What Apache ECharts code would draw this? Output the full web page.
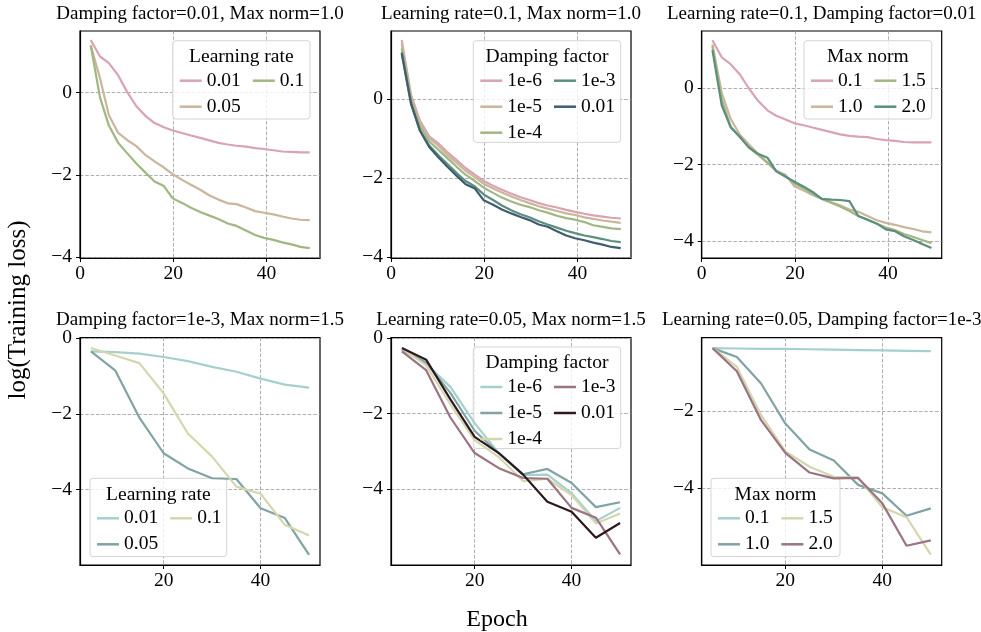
<!DOCTYPE html>
<html>
<head>
<meta charset="utf-8">
<script src="https://cdn.jsdelivr.net/npm/echarts@6/dist/echarts.min.js"></script>
<style>
  html, body { margin: 0; padding: 0; background: #fff; }
  #main { width: 981px; height: 632px; }
</style>
</head>
<body>
<div id="main"></div>
<script>
var chartDom = document.getElementById('main');
var myChart = echarts.init(chartDom);
var option;

const FONT = "'Liberation Serif', 'Times New Roman', Times, serif";
const FS = 19.5;

// epochs
const epochsTop = [2.3, 4.3, 6.2, 8.2, 10.1, 12.1, 14.1, 16.0, 18.0, 19.9, 21.9, 23.8, 25.8,
  27.8, 29.7, 31.7, 33.6, 35.6, 37.6, 39.5, 41.5, 43.4, 45.4, 47.3, 49.3];
const epochsBottom = [5, 10, 15, 20, 25, 30, 35, 40, 45, 50];

// top row, log(training loss)
// lr=0.1, damping=0.01, max norm=1.0 (shared by the three top panels)
const lossBaseTop = [1.15, -0.12, -0.80, -1.22, -1.47, -1.72, -1.95, -2.16, -2.27, -2.57, -2.68, -2.80, -2.90,
  -2.99, -3.07, -3.18, -3.24, -3.35, -3.46, -3.53, -3.58, -3.64, -3.69, -3.75, -3.78];
const p1Lr001 = [1.28, 0.88, 0.72, 0.42, 0.02, -0.33, -0.57, -0.74, -0.84, -0.92, -0.98, -1.04, -1.10,
  -1.16, -1.22, -1.26, -1.29, -1.31, -1.35, -1.37, -1.40, -1.43, -1.44, -1.45, -1.45];
const p1Lr005 = [1.15, 0.35, -0.55, -0.98, -1.15, -1.30, -1.52, -1.67, -1.82, -1.98, -2.12, -2.24, -2.36,
  -2.50, -2.60, -2.69, -2.71, -2.79, -2.88, -2.92, -2.96, -3.01, -3.06, -3.09, -3.10];

const p2Df1e6 = [1.49, 0.10, -0.55, -0.95, -1.12, -1.35, -1.55, -1.75, -1.92, -2.08, -2.20, -2.30, -2.40,
  -2.49, -2.56, -2.64, -2.70, -2.75, -2.81, -2.86, -2.91, -2.95, -2.98, -3.01, -3.03];
const p2Df1e5 = [1.40, 0.05, -0.62, -1.00, -1.18, -1.42, -1.62, -1.82, -1.98, -2.15, -2.27, -2.37, -2.47,
  -2.56, -2.64, -2.72, -2.78, -2.84, -2.90, -2.94, -3.00, -3.04, -3.08, -3.11, -3.14];
const p2Df1e4 = [1.28, -0.02, -0.70, -1.08, -1.28, -1.50, -1.72, -1.92, -2.08, -2.25, -2.38, -2.50, -2.60,
  -2.68, -2.74, -2.82, -2.88, -2.96, -3.02, -3.06, -3.12, -3.20, -3.24, -3.28, -3.30];
const p2Df1e3 = [1.18, -0.12, -0.80, -1.18, -1.42, -1.65, -1.88, -2.08, -2.22, -2.42, -2.56, -2.70, -2.82,
  -2.92, -3.00, -3.10, -3.18, -3.26, -3.34, -3.40, -3.46, -3.50, -3.55, -3.60, -3.63];

const p3Mn01 = [1.26, 0.81, 0.63, 0.36, 0.00, -0.33, -0.58, -0.72, -0.82, -0.92, -0.97, -1.03, -1.09,
  -1.15, -1.21, -1.25, -1.27, -1.28, -1.33, -1.36, -1.38, -1.41, -1.42, -1.42, -1.42];
const p3Mn15 = [1.10, -0.30, -1.00, -1.28, -1.55, -1.75, -1.95, -2.17, -2.30, -2.50, -2.62, -2.78, -2.90,
  -3.00, -3.10, -3.22, -3.35, -3.45, -3.55, -3.65, -3.72, -3.82, -3.90, -3.98, -4.06];
const p3Mn20 = [1.00, -0.45, -1.02, -1.28, -1.55, -1.72, -1.82, -2.18, -2.32, -2.45, -2.58, -2.72, -2.90,
  -2.92, -2.93, -2.96, -3.35, -3.45, -3.55, -3.70, -3.75, -3.88, -3.98, -4.08, -4.19];

// bottom row
// lr=0.05, damping=1e-3, max norm=1.5 (shared by the three bottom panels)
const lossBaseBottom = [-0.35, -0.85, -2.10, -3.04, -3.44, -3.70, -3.72, -4.49, -4.75, -5.72];
const p4Lr001 = [-0.35, -0.37, -0.41, -0.50, -0.61, -0.76, -0.89, -1.07, -1.23, -1.31];
const p4Lr01 = [-0.26, -0.46, -0.66, -1.46, -2.52, -3.13, -3.92, -4.11, -4.93, -5.21];

const p5Df1e6 = [-0.30, -0.68, -1.29, -2.25, -3.05, -3.62, -3.61, -4.10, -4.84, -4.49];
const p5Df1e5 = [-0.30, -0.65, -1.45, -2.45, -3.05, -3.60, -3.46, -3.83, -4.47, -4.34];
const p5Df1e4 = [-0.28, -0.72, -1.75, -2.70, -3.15, -3.78, -3.72, -4.15, -4.90, -4.64];
const p5Df001 = [-0.26, -0.57, -1.62, -2.61, -3.04, -3.61, -4.33, -4.59, -5.28, -4.89];

const p6Mn01 = [-0.36, -0.37, -0.38, -0.38, -0.39, -0.40, -0.41, -0.42, -0.43, -0.44];
const p6Mn10 = [-0.36, -0.59, -1.28, -2.32, -2.99, -3.28, -3.91, -4.13, -4.71, -4.52];
const p6Mn20 = [-0.36, -0.96, -2.23, -3.08, -3.59, -3.74, -3.73, -4.39, -5.49, -5.35];

// tick labels
const xTicksTop = [0, 20, 40];
const xTicksBottom = [20, 40];
const yTicks = [[-4, -2, 0], [-4, -2, 0], [-4, -2, 0], [-4, -2, 0], [-4, -2, 0], [-4, -2]];

// palettes
const topColors = ['#d9a3b1', '#c9b69c', '#a0b783', '#5d8e7d', '#3f5d6f'];
const bottomColors = ['#a5d0cc', '#81a3a4', '#d4d7ad', '#9b7383', '#2e1820'];

const panels = [
  { title: 'Damping factor=0.01, Max norm=1.0', legendTitle: 'Learning rate', x: epochsTop,
    labels: ['0.01', '0.05', '0.1'], values: [p1Lr001, p1Lr005, lossBaseTop],
    colors: [topColors[0], topColors[1], topColors[2]] },
  { title: 'Learning rate=0.1, Max norm=1.0', legendTitle: 'Damping factor', x: epochsTop,
    labels: ['1e-6', '1e-5', '1e-4', '1e-3', '0.01'], values: [p2Df1e6, p2Df1e5, p2Df1e4, p2Df1e3, lossBaseTop],
    colors: topColors },
  { title: 'Learning rate=0.1, Damping factor=0.01', legendTitle: 'Max norm', x: epochsTop,
    labels: ['0.1', '1.0', '1.5', '2.0'], values: [p3Mn01, lossBaseTop, p3Mn15, p3Mn20],
    colors: [topColors[0], topColors[1], topColors[2], topColors[3]] },
  { title: 'Damping factor=1e-3, Max norm=1.5', legendTitle: 'Learning rate', x: epochsBottom,
    labels: ['0.01', '0.05', '0.1'], values: [p4Lr001, lossBaseBottom, p4Lr01],
    colors: [bottomColors[0], bottomColors[1], bottomColors[2]] },
  { title: 'Learning rate=0.05, Max norm=1.5', legendTitle: 'Damping factor', x: epochsBottom,
    labels: ['1e-6', '1e-5', '1e-4', '1e-3', '0.01'], values: [p5Df1e6, p5Df1e5, p5Df1e4, lossBaseBottom, p5Df001],
    colors: bottomColors },
  { title: 'Learning rate=0.05, Damping factor=1e-3', legendTitle: 'Max norm', x: epochsBottom,
    labels: ['0.1', '1.0', '1.5', '2.0'], values: [p6Mn01, p6Mn10, lossBaseBottom, p6Mn20],
    colors: [bottomColors[0], bottomColors[1], bottomColors[2], bottomColors[3]] }
];

// layout
const grids = [
  { left: 80, top: 31, width: 240, height: 227 },
  { left: 391, top: 31, width: 240, height: 227 },
  { left: 701.7, top: 31, width: 240, height: 227 },
  { left: 80, top: 337.7, width: 240, height: 227.3 },
  { left: 391, top: 337.7, width: 240, height: 227.3 },
  { left: 701.7, top: 337.7, width: 240, height: 227.3 }
];
const xRanges = [[0, 51.5], [0, 51.5], [0, 51.5], [2.75, 52.25], [2.75, 52.25], [2.75, 52.25]];
const yRanges = [[-4.02, 1.5], [-4.03, 1.72], [-4.45, 1.5], [-5.99, 0.01], [-6.0, 0.01], [-5.99, -0.09]];
const legendBoxes = [
  { x: 172.7, y: 40.7, w: 137.3 },
  { x: 473.3, y: 40.7, w: 147.4 },
  { x: 804, y: 40.7, w: 127.7 },
  { x: 90, y: 478.3, w: 136.7 },
  { x: 473.3, y: 347, w: 147.4 },
  { x: 711, y: 478.3, w: 129 }
];

const minus = function (v) {
  return String(v).replace('-', '\u2212');
};

const xAxes = [];
const yAxes = [];
const series = [];
const legends = [];
const graphics = [];

panels.forEach(function (p, i) {
  const g = grids[i];
  const xt = i < 3 ? xTicksTop : xTicksBottom;
  const split = { show: true, lineStyle: { color: '#9a9a9a', width: 0.8, type: [3.5, 1.8] } };
  xAxes.push({
    type: 'value', gridIndex: i, min: xRanges[i][0], max: xRanges[i][1],
    axisLine: { show: true, onZero: false, lineStyle: { color: '#000', width: 1.2 } },
    axisTick: { show: true, length: 4, customValues: xt, lineStyle: { color: '#000', width: 1 } },
    axisLabel: { customValues: xt, color: '#000', fontFamily: FONT, fontSize: FS, margin: 6, formatter: minus },
    splitLine: split
  });
  yAxes.push({
    type: 'value', gridIndex: i, min: yRanges[i][0], max: yRanges[i][1],
    axisLine: { show: true, onZero: false, lineStyle: { color: '#000', width: 1.2 } },
    axisTick: { show: true, length: 4, customValues: yTicks[i], lineStyle: { color: '#000', width: 1 } },
    axisLabel: { customValues: yTicks[i], color: '#000', fontFamily: FONT, fontSize: FS, margin: 8, formatter: minus },
    splitLine: split
  });

  const names = [];
  p.labels.forEach(function (lab, k) {
    const name = 'p' + i + '|' + lab;
    names.push(name);
    series.push({
      name: name,
      type: 'line',
      xAxisIndex: i,
      yAxisIndex: i,
      showSymbol: false,
      symbol: 'none',
      silent: true,
      color: p.colors[k],
      itemStyle: { color: p.colors[k] },
      lineStyle: { color: p.colors[k], width: 2.2 },
      data: p.x.map(function (e, j) { return [e, p.values[k][j]]; })
    });
  });

  // matplotlib fills legend columns first (ncol=2)
  const rows = Math.ceil(names.length / 2);
  const ordered = [];
  for (let r = 0; r < rows; r++) {
    ordered.push(names[r]);
    if (names[r + rows]) ordered.push(names[r + rows]);
  }

  const lb = legendBoxes[i];
  const boxH = rows === 2 ? 78.3 : 101.6;
  legends.push({
    show: true,
    orient: 'horizontal',
    left: lb.x + 7,
    top: lb.y + 30,
    width: 150,
    padding: 0,
    itemGap: 6,
    itemWidth: 22,
    itemHeight: 2.5,
    icon: 'rect',
    selectedMode: false,
    data: ordered,
    formatter: function (n) { return n.split('|')[1]; },
    textStyle: { color: '#000', fontFamily: FONT, fontSize: FS, lineHeight: 17, padding: [0, 6, 0, 0] }
  });
  graphics.push({
    type: 'rect', z: 3,
    shape: { x: lb.x, y: lb.y, width: lb.w, height: boxH, r: 3 },
    style: { fill: 'rgba(255,255,255,0.8)', stroke: '#d4d4d4', lineWidth: 1 }
  });
  graphics.push({
    type: 'text', z: 5,
    x: lb.x + lb.w / 2, y: lb.y + 16.3,
    style: { text: p.legendTitle, fill: '#000', font: FS + 'px ' + FONT, textAlign: 'center', textVerticalAlign: 'middle' }
  });
  graphics.push({
    type: 'text', z: 5,
    x: g.left + g.width / 2, y: i < 3 ? 14 : 320,
    style: { text: p.title, fill: '#000', font: '19px ' + FONT, textAlign: 'center', textVerticalAlign: 'middle' }
  });
});

graphics.push({
  type: 'text', z: 5, x: 18, y: 310, rotation: Math.PI / 2,
  style: { text: 'log(Training loss)', fill: '#000', font: '25px ' + FONT, textAlign: 'center', textVerticalAlign: 'middle' }
});
graphics.push({
  type: 'text', z: 5, x: 497, y: 620,
  style: { text: 'Epoch', fill: '#000', font: '24px ' + FONT, textAlign: 'center', textVerticalAlign: 'middle' }
});

option = {
  animation: false,
  backgroundColor: '#fff',
  grid: grids.map(function (g) {
    return Object.assign({ show: true, borderColor: '#000', borderWidth: 1.2, backgroundColor: 'transparent' }, g);
  }),
  xAxis: xAxes,
  yAxis: yAxes,
  legend: legends,
  graphic: graphics,
  series: series
};

option && myChart.setOption(option);
</script>
</body>
</html>
